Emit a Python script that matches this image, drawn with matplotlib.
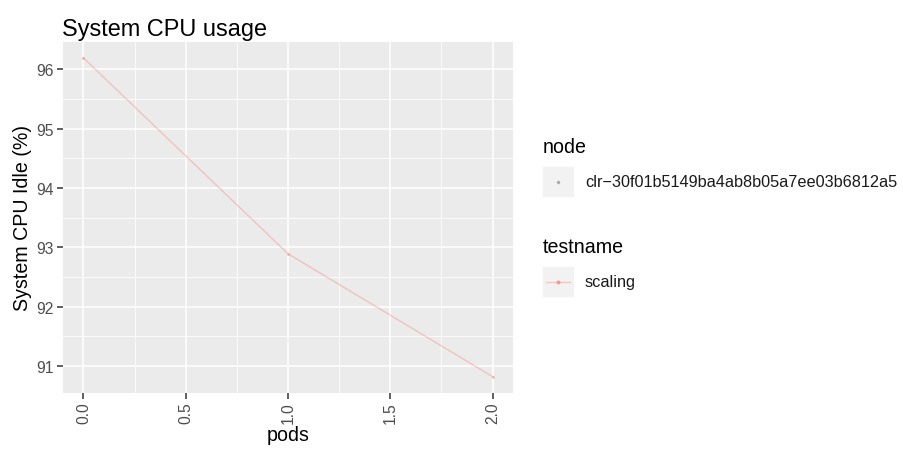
import numpy as np
import matplotlib.pyplot as plt
from matplotlib.patches import Rectangle
from matplotlib.lines import Line2D

plt.rcParams['font.family'] = ['Liberation Sans', 'DejaVu Sans']

# data
pods = [0, 1, 2]
idle = [96.19, 92.89, 90.82]
node_name = "clr\u221230f01b5149ba4ab8b05a7ee03b6812a5"
testname = "scaling"

line_col = "#F8766D"
base = 14.1

fig = plt.figure(figsize=(9.04, 4.6), dpi=100)
ax = fig.add_axes([63 / 904, 1 - 393.5 / 460, 450 / 904, 350.5 / 460])

ax.set_facecolor("#EBEBEB")
ax.plot(pods, idle, color=line_col, alpha=0.35, lw=1.0, zorder=3)
ax.scatter(pods, idle, color=line_col, alpha=0.5, s=4, lw=0, zorder=4)

# ggplot style expansion
xr = max(pods) - min(pods)
yr = max(idle) - min(idle)
ax.set_xlim(min(pods) - 0.05 * xr, max(pods) + 0.05 * xr)
ax.set_ylim(min(idle) - 0.05 * yr, max(idle) + 0.05 * yr)

xt = [0.0, 0.5, 1.0, 1.5, 2.0]
yt = [91, 92, 93, 94, 95, 96]
ax.set_xticks(xt)
ax.set_xticklabels([f"{v:.1f}" for v in xt], rotation=90)
ax.set_yticks(yt)
ax.set_xticks([0.25, 0.75, 1.25, 1.75], minor=True)
ax.set_yticks([91.5, 92.5, 93.5, 94.5, 95.5], minor=True)
ax.grid(which="major", color="white", lw=1.1)
ax.grid(which="minor", color="white", lw=0.55)
ax.set_axisbelow(True)
for s in ax.spines.values():
    s.set_visible(False)
ax.tick_params(which="major", length=4, width=1.1, color="#333333",
               labelsize=base * 0.8, labelcolor="#4D4D4D", pad=2.5)
ax.tick_params(which="minor", length=0)

ax.set_xlabel("pods", fontsize=base, labelpad=1.5)
ax.set_ylabel("System CPU Idle (%)", fontsize=base, labelpad=3)
ax.set_title("System CPU usage", fontsize=base * 1.2, loc="left", x=-0.002, pad=5)

# legends drawn by hand (ggplot style keys)
def px(x, y):
    return x / 904, 1 - y / 460

leg_txt = 11.7
fig.text(*px(543, 148), "node", fontsize=base, va="center")
fig.patches.append(Rectangle(px(543, 197), 30 / 904, 29 / 460,
                             transform=fig.transFigure, color="#F2F2F2", zorder=1))
fig.lines.append(Line2D([px(558, 0)[0]], [px(0, 182.5)[1]], transform=fig.transFigure,
                        marker="o", ms=1.5, color="#7F7F7F", alpha=0.5, lw=0))
fig.text(*px(585, 182.5), node_name, fontsize=leg_txt, va="center", color="#1A1A1A")

fig.text(*px(543, 248), "testname", fontsize=base, va="center")
fig.patches.append(Rectangle(px(543, 297), 30 / 904, 29 / 460,
                             transform=fig.transFigure, color="#F2F2F2", zorder=1))
fig.lines.append(Line2D([px(546, 0)[0], px(570, 0)[0]], [px(0, 283)[1]] * 2,
                        transform=fig.transFigure, color=line_col, alpha=0.35, lw=1.0))
fig.lines.append(Line2D([px(558, 0)[0]], [px(0, 283)[1]], transform=fig.transFigure,
                        marker="o", ms=2, color=line_col, alpha=0.5, lw=0))
fig.text(*px(585, 283), testname, fontsize=leg_txt, va="center", color="#1A1A1A")

fig.savefig("out.png", dpi=100)
